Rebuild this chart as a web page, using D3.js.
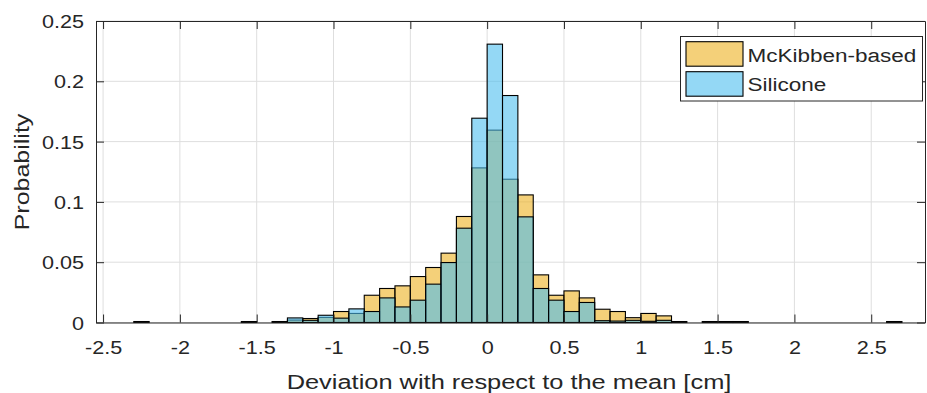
<!DOCTYPE html>
<html>
<head>
<meta charset="utf-8">
<script src="https://cdn.jsdelivr.net/npm/d3@7/dist/d3.min.js"></script>
<style>
  html, body { margin: 0; padding: 0; background: #fff; }
  svg { display: block; }
  text { font-family: "Liberation Sans", Arial, Helvetica, sans-serif; fill: #262626; }
</style>
</head>
<body>
<svg id="chart" width="927" height="393"></svg>
<script>
// Histogram bin edges (cm), 0.1 cm wide
const binEdges = [
  -2.3, -2.2, -2.1, -2.0, -1.9, -1.8, -1.7, -1.6, -1.5, -1.4,
  -1.3, -1.2, -1.1, -1.0, -0.9, -0.8, -0.7, -0.6, -0.5, -0.4,
  -0.3, -0.2, -0.1, 0.0, 0.1, 0.2, 0.3, 0.4, 0.5, 0.6,
  0.7, 0.8, 0.9, 1.0, 1.1, 1.2, 1.3, 1.4, 1.5, 1.6,
  1.7, 1.8, 1.9, 2.0, 2.1, 2.2, 2.3, 2.4, 2.5, 2.6, 2.7
];

// Probability per bin, McKibben-based actuator
const mckibben = [
  0.0008, 0, 0, 0, 0, 0, 0, 0.0008, 0, 0.0008,
  0.0020, 0.0033, 0.0042, 0.0091, 0.0075, 0.0226, 0.0282, 0.0304, 0.0381, 0.0456,
  0.0575, 0.0879, 0.1282, 0.1595, 0.1188, 0.1058, 0.0395, 0.0226, 0.0262, 0.0204,
  0.0110, 0.0091, 0.0040, 0.0075, 0.0055, 0.0008, 0, 0.0008, 0.0008, 0.0008,
  0, 0, 0, 0, 0, 0, 0, 0, 0, 0.0008
];

// Probability per bin, silicone actuator
const silicone = [
  0, 0, 0, 0, 0, 0, 0, 0, 0, 0,
  0.0038, 0.0018, 0.0060, 0.0036, 0.0113, 0.0091, 0.0204, 0.0129, 0.0185, 0.0318,
  0.0497, 0.0782, 0.1694, 0.2308, 0.1882, 0.0876, 0.0282, 0.0185, 0.0091, 0.0166,
  0.0015, 0.0012, 0.0018, 0.0010, 0.0018, 0, 0, 0, 0, 0,
  0, 0, 0, 0, 0, 0, 0, 0, 0, 0
];

const seriesNames = ["McKibben-based", "Silicone"];
const seriesColors = ["#EDB120", "#4DBEEE"];

const xTickValues = [-2.5, -2, -1.5, -1, -0.5, 0, 0.5, 1, 1.5, 2, 2.5];
const xTickLabels = ["-2.5", "-2", "-1.5", "-1", "-0.5", "0", "0.5", "1", "1.5", "2", "2.5"];
const yTickValues = [0, 0.05, 0.1, 0.15, 0.2, 0.25];
const yTickLabels = ["0", "0.05", "0.1", "0.15", "0.2", "0.25"];

const xTitle = "Deviation with respect to the mean [cm]";
const yTitle = "Probability";

// Layout
const plot = { left: 96, right: 925, top: 21, bottom: 322.5 };
const axisColor = "#262626";
const faceAlpha = 0.6;

const svg = d3.select("#chart");

const x = d3.scaleLinear().domain([-2.546, 2.85]).range([plot.left, plot.right]);
const y = d3.scaleLinear().domain([0, 0.25]).range([plot.bottom, plot.top]);

// Grid
const grid = svg.append("g").attr("stroke", "#dedede").attr("stroke-width", 1);
grid.selectAll("line.gx").data(xTickValues).join("line")
  .attr("class", "gx")
  .attr("x1", d => x(d)).attr("x2", d => x(d))
  .attr("y1", plot.top).attr("y2", plot.bottom);
grid.selectAll("line.gy").data(yTickValues).join("line")
  .attr("class", "gy")
  .attr("x1", plot.left).attr("x2", plot.right)
  .attr("y1", d => y(d)).attr("y2", d => y(d));

// Bars: McKibben first, silicone overlaid on top
function drawSeries(values, color) {
  const bins = values.map((v, i) => ({ x0: binEdges[i], x1: binEdges[i + 1], v }))
    .filter(d => d.v > 0);
  svg.append("g").selectAll("rect").data(bins).join("rect")
    .attr("x", d => x(d.x0))
    .attr("width", d => x(d.x1) - x(d.x0))
    .attr("y", d => y(d.v))
    .attr("height", d => y(0) - y(d.v))
    .attr("fill", color)
    .attr("fill-opacity", faceAlpha)
    .attr("stroke", "#000")
    .attr("stroke-width", 1.1);
}
drawSeries(mckibben, seriesColors[0]);
drawSeries(silicone, seriesColors[1]);

// Axes (ticks point inward, box on all four sides)
const tickLen = 8;
function styleAxis(g) {
  g.selectAll(".domain").attr("stroke", axisColor).attr("stroke-width", 1);
  g.selectAll(".tick line").attr("stroke", axisColor).attr("stroke-width", 1);
}

const xAxis = svg.append("g")
  .attr("transform", `translate(0,${plot.bottom})`)
  .call(d3.axisBottom(x).tickValues(xTickValues)
    .tickFormat((d, i) => xTickLabels[i]).tickSizeInner(-tickLen).tickSizeOuter(0));
styleAxis(xAxis);
xAxis.selectAll(".tick text")
  .attr("y", 0).attr("dy", null)
  .attr("text-anchor", "middle")
  .attr("transform", "translate(0,31.5) scale(1.2,1)")
  .style("font-size", "18px")
  .style("font-family", "'Liberation Sans', Arial, sans-serif")
  .attr("fill", axisColor);

const xAxisTop = svg.append("g")
  .attr("transform", `translate(0,${plot.top})`)
  .call(d3.axisTop(x).tickValues(xTickValues).tickFormat("").tickSizeInner(-tickLen).tickSizeOuter(0));
styleAxis(xAxisTop);

const yAxis = svg.append("g")
  .attr("transform", `translate(${plot.left},0)`)
  .call(d3.axisLeft(y).tickValues(yTickValues)
    .tickFormat((d, i) => yTickLabels[i]).tickSizeInner(-tickLen).tickSizeOuter(0));
styleAxis(yAxis);
yAxis.selectAll(".tick text")
  .attr("x", 0).attr("dy", null)
  .attr("text-anchor", "end")
  .attr("transform", "translate(-12,6.5) scale(1.2,1)")
  .style("font-size", "18px")
  .style("font-family", "'Liberation Sans', Arial, sans-serif")
  .attr("fill", axisColor);

const yAxisRight = svg.append("g")
  .attr("transform", `translate(${plot.right},0)`)
  .call(d3.axisRight(y).tickValues(yTickValues).tickFormat("").tickSizeInner(-tickLen).tickSizeOuter(0));
styleAxis(yAxisRight);

// Axis titles
svg.append("text")
  .attr("text-anchor", "middle")
  .attr("transform", "translate(509,389) scale(1.27,1)")
  .style("font-size", "20px")
  .text(xTitle);

svg.append("text")
  .attr("text-anchor", "middle")
  .attr("transform", "translate(29,172) rotate(-90) scale(1.25,1)")
  .style("font-size", "20px")
  .text(yTitle);

// Legend
const legend = svg.append("g");
legend.append("rect")
  .attr("x", 680.5).attr("y", 36.5).attr("width", 242).attr("height", 64.5)
  .attr("fill", "#fff").attr("stroke", axisColor).attr("stroke-width", 1);
const legendRows = [
  { name: seriesNames[0], color: seriesColors[0], top: 41.7, baseline: 61.5 },
  { name: seriesNames[1], color: seriesColors[1], top: 71.7, baseline: 91 }
];
legendRows.forEach(r => {
  legend.append("rect")
    .attr("x", 686).attr("y", r.top).attr("width", 57).attr("height", 24.5)
    .attr("fill", r.color).attr("fill-opacity", faceAlpha)
    .attr("stroke", "#000").attr("stroke-width", 1.1);
  legend.append("text")
    .attr("transform", `translate(747.5,${r.baseline}) scale(1.25,1)`)
    .style("font-size", "18px")
    .text(r.name);
});
</script>
</body>
</html>
